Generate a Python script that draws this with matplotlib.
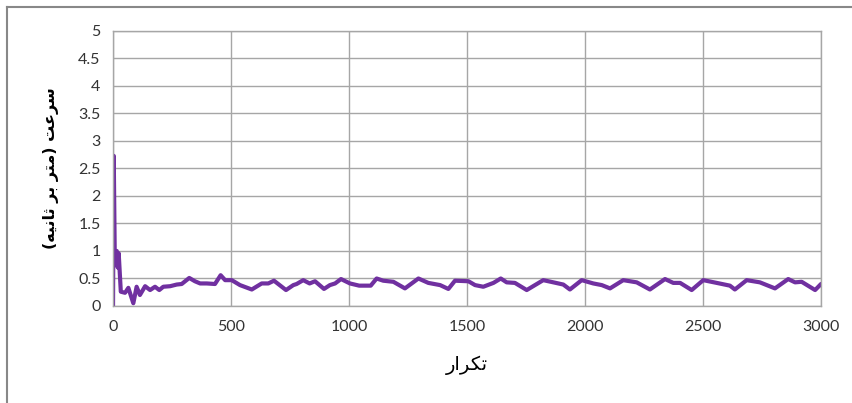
import matplotlib
matplotlib.use('Agg')
import matplotlib.pyplot as plt
from matplotlib.lines import Line2D

# iteration number vs speed (m/s)
iterations = [0, 3, 7, 12, 16, 20, 24, 33, 51, 65, 86, 100, 114, 136, 157, 178, 196,
              213, 242, 270, 291, 323, 347, 369, 397, 432, 456, 475, 503, 538, 588,
              630, 658, 682, 733, 764, 778, 806, 833, 856, 894, 919, 941, 966, 1004,
              1043, 1092, 1117, 1145, 1188, 1237, 1294, 1336, 1386, 1421, 1449, 1506,
              1534, 1569, 1612, 1643, 1668, 1703, 1753, 1823, 1866, 1908, 1936, 1986,
              2035, 2071, 2106, 2162, 2219, 2275, 2339, 2374, 2403, 2452, 2501, 2558,
              2614, 2635, 2685, 2741, 2805, 2861, 2890, 2918, 2975, 3000]
speed = [0, 2.73, 1.05, 0.75, 1.0, 0.7, 0.96, 0.26, 0.24, 0.33, 0.05, 0.35, 0.2,
         0.36, 0.29, 0.35, 0.29, 0.35, 0.36, 0.39, 0.40, 0.51, 0.45, 0.41, 0.41, 0.40,
         0.56, 0.47, 0.47, 0.38, 0.30, 0.41, 0.41, 0.46, 0.29, 0.38, 0.40, 0.47, 0.41,
         0.45, 0.31, 0.38, 0.41, 0.49, 0.41, 0.37, 0.37, 0.50, 0.46, 0.44, 0.32, 0.50,
         0.42, 0.38, 0.31, 0.46, 0.45, 0.38, 0.35, 0.42, 0.50, 0.43, 0.42, 0.29, 0.47,
         0.43, 0.39, 0.30, 0.47, 0.41, 0.38, 0.32, 0.47, 0.43, 0.30, 0.49, 0.42, 0.42,
         0.29, 0.47, 0.42, 0.37, 0.30, 0.47, 0.43, 0.32, 0.49, 0.43, 0.44, 0.29, 0.40]

x_ticks = [0, 500, 1000, 1500, 2000, 2500, 3000]
y_ticks = [0, 0.5, 1, 1.5, 2, 2.5, 3, 3.5, 4, 4.5, 5]
y_tick_labels = ['0', '0.5', '1', '1.5', '2', '2.5', '3', '3.5', '4', '4.5', '5']

# Persian labels, written in visual order with shaped (presentation) forms
# since matplotlib does no arabic shaping / bidi
x_label = '\uFEAD\uFE8D\uFEAE\uFB91\uFE97'  # تکرار
y_label = ('(\uFEEA\uFBFF\uFEE7\uFE8E\uFE9B \uFEAE\uFE91 \uFEAE\uFE98\uFEE3) '
           '\uFE96\uFECB\uFEAE\uFEB3')  # سرعت (متر بر ثانیه)

line_color = '#7030A0'
grid_color = '#a6a6a6'

fig = plt.figure(figsize=(8.53, 4.03), dpi=100)
ax = fig.add_axes([0.1325, 0.2407, 0.83, 0.6824])

ax.plot(iterations, speed, color=line_color, lw=3, solid_joinstyle='round',
        solid_capstyle='round')

ax.set_xlim(0, 3000)
ax.set_ylim(0, 5)
ax.set_xticks(x_ticks)
ax.set_yticks(y_ticks)
ax.set_yticklabels(y_tick_labels)
ax.grid(True, color=grid_color, lw=1)
ax.set_axisbelow(True)
for s in ax.spines.values():
    s.set_color(grid_color)
    s.set_linewidth(1)
ax.tick_params(length=0, labelsize=11.5, colors='#333333')
ax.tick_params(axis='x', pad=10)
ax.tick_params(axis='y', pad=9)
for lab in ax.get_xticklabels() + ax.get_yticklabels():
    lab.set_family('Lato')

ax.set_xlabel(x_label, family='DejaVu Sans', fontsize=14, labelpad=16)
ax.set_ylabel(y_label, family='DejaVu Sans', fontsize=11.5, fontweight='bold',
              labelpad=14)

# outer chart frame (top and left edges only)
fig.add_artist(Line2D([7/853, 7/853], [0, 1 - 7/403], transform=fig.transFigure,
                      color='#888888', lw=1.5))
fig.add_artist(Line2D([7/853, 1], [1 - 7/403, 1 - 7/403], transform=fig.transFigure,
                      color='#888888', lw=1.5))

fig.savefig('out.png', dpi=100)
